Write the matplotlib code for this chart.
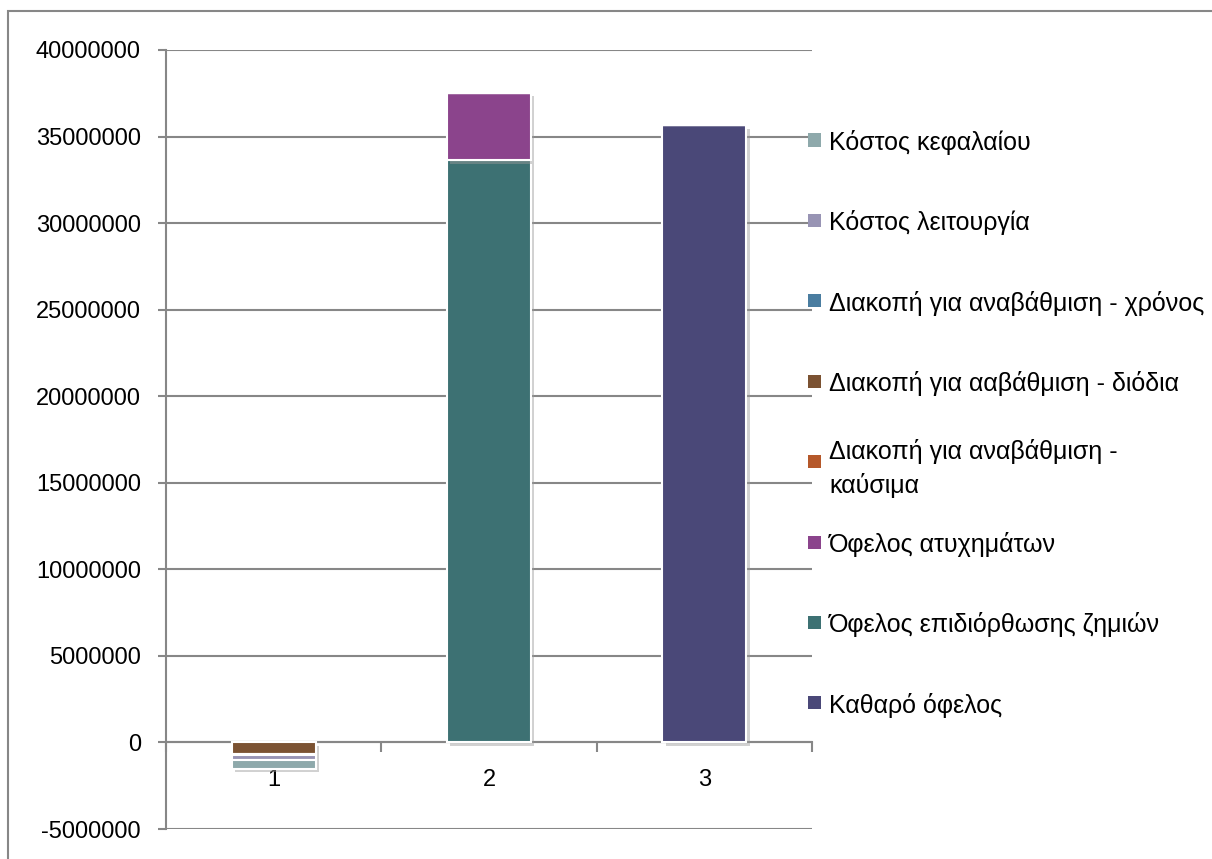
import matplotlib.pyplot as plt
import matplotlib.patheffects as pe
from matplotlib.patches import Rectangle
import numpy as np

plt.rcParams["font.family"] = ["Liberation Sans", "DejaVu Sans"]
plt.rcParams["axes.unicode_minus"] = False

# Categories (scenarios) and stacked series, bottom to top
categories = ["1", "2", "3"]
series_names = [
    "Καθαρό όφελος",
    "Όφελος επιδιόρθωσης ζημιών",
    "Όφελος ατυχημάτων",
    "Διακοπή για αναβάθμιση -\nκαύσιμα",
    "Διακοπή για ααβάθμιση - διόδια",
    "Διακοπή για αναβάθμιση - χρόνος",
    "Κόστος λειτουργία",
    "Κόστος κεφαλαίου",
]
series_values = [
    [0, 0, 35650000],
    [0, 33620000, 0],
    [0, 3900000, 0],
    [0, 0, 0],
    [-690000, 0, 0],
    [-60000, 0, 0],
    [-290000, 0, 0],
    [-470000, 0, 0],
]
series_colors = [
    "#4A4878",
    "#3D7173",
    "#8B448C",
    "#B5582A",
    "#7B5232",
    "#4A7DA0",
    "#9894B4",
    "#8EA9AB",
]

W, H = 1212, 859
fig = plt.figure(figsize=(W / 100, H / 100), dpi=100)
ax = fig.add_axes([166 / W, 1 - 829 / H, (812 - 166) / W, (829 - 50) / H])

x = np.arange(1, len(categories) + 1)
pos_base = np.zeros(len(categories))
neg_base = np.zeros(len(categories))
shadow = [pe.SimplePatchShadow(offset=(2.5, -2.5), shadow_rgbFace="#999999", alpha=0.45), pe.Normal()]

for name, vals, col in zip(series_names, series_values, series_colors):
    vals = np.array(vals, dtype=float)
    base = np.where(vals >= 0, pos_base, neg_base)
    bars = ax.bar(x, vals, width=0.39, bottom=base, color=col,
                  edgecolor="white", linewidth=1.5, zorder=3, label=name)
    for b in bars:
        if b.get_height() != 0:
            b.set_path_effects(shadow)
    pos_base += np.where(vals > 0, vals, 0)
    neg_base += np.where(vals < 0, vals, 0)

# Axes styling
ax.set_xlim(0.5, 3.5)
ax.set_ylim(-5000000, 40000000)
ax.set_yticks(np.arange(-5000000, 40000001, 5000000))
ax.ticklabel_format(axis="y", style="plain", useOffset=False)
ax.yaxis.grid(True, color="#878787", linewidth=1.5, zorder=0)
ax.set_axisbelow(True)

for s in ["top", "right"]:
    ax.spines[s].set_visible(False)
ax.spines["left"].set_color("#878787")
ax.spines["left"].set_linewidth(1.5)
ax.spines["bottom"].set_position(("data", 0))
ax.spines["bottom"].set_color("#878787")
ax.spines["bottom"].set_linewidth(1.5)

ax.tick_params(axis="y", length=6, width=1.5, color="#878787", labelsize=17, pad=12)
ax.set_xticks(x)
ax.set_xticklabels(categories)
ax.set_xticks([0.5, 1.5, 2.5, 3.5], minor=True)
ax.tick_params(axis="x", which="major", length=0, labelsize=17, pad=19)
ax.tick_params(axis="x", which="minor", length=7, width=1.5, color="#878787")

# Legend on the right, top series listed first, one slot per entry
slot_top, slot_step = 140, 80.4
for i, (name, col) in enumerate(zip(series_names[::-1], series_colors[::-1])):
    yc = slot_top + i * slot_step
    fig.patches.append(Rectangle((808 / W, 1 - (yc + 6.5) / H), 13 / W, 13 / H,
                                 transform=fig.transFigure, facecolor=col,
                                 edgecolor="none"))
    fig.text(829 / W, 1 - yc / H, name, fontsize=18, va="center_baseline",
             ha="left", linespacing=1.45)

# Chart border (right and bottom sides run off the canvas)
fig.patches.append(Rectangle((8 / W, 1 - 880 / H), 1230 / W, 869 / H,
                             transform=fig.transFigure, fill=False,
                             edgecolor="#878787", linewidth=1.5))

fig.savefig("out.png", dpi=100)
